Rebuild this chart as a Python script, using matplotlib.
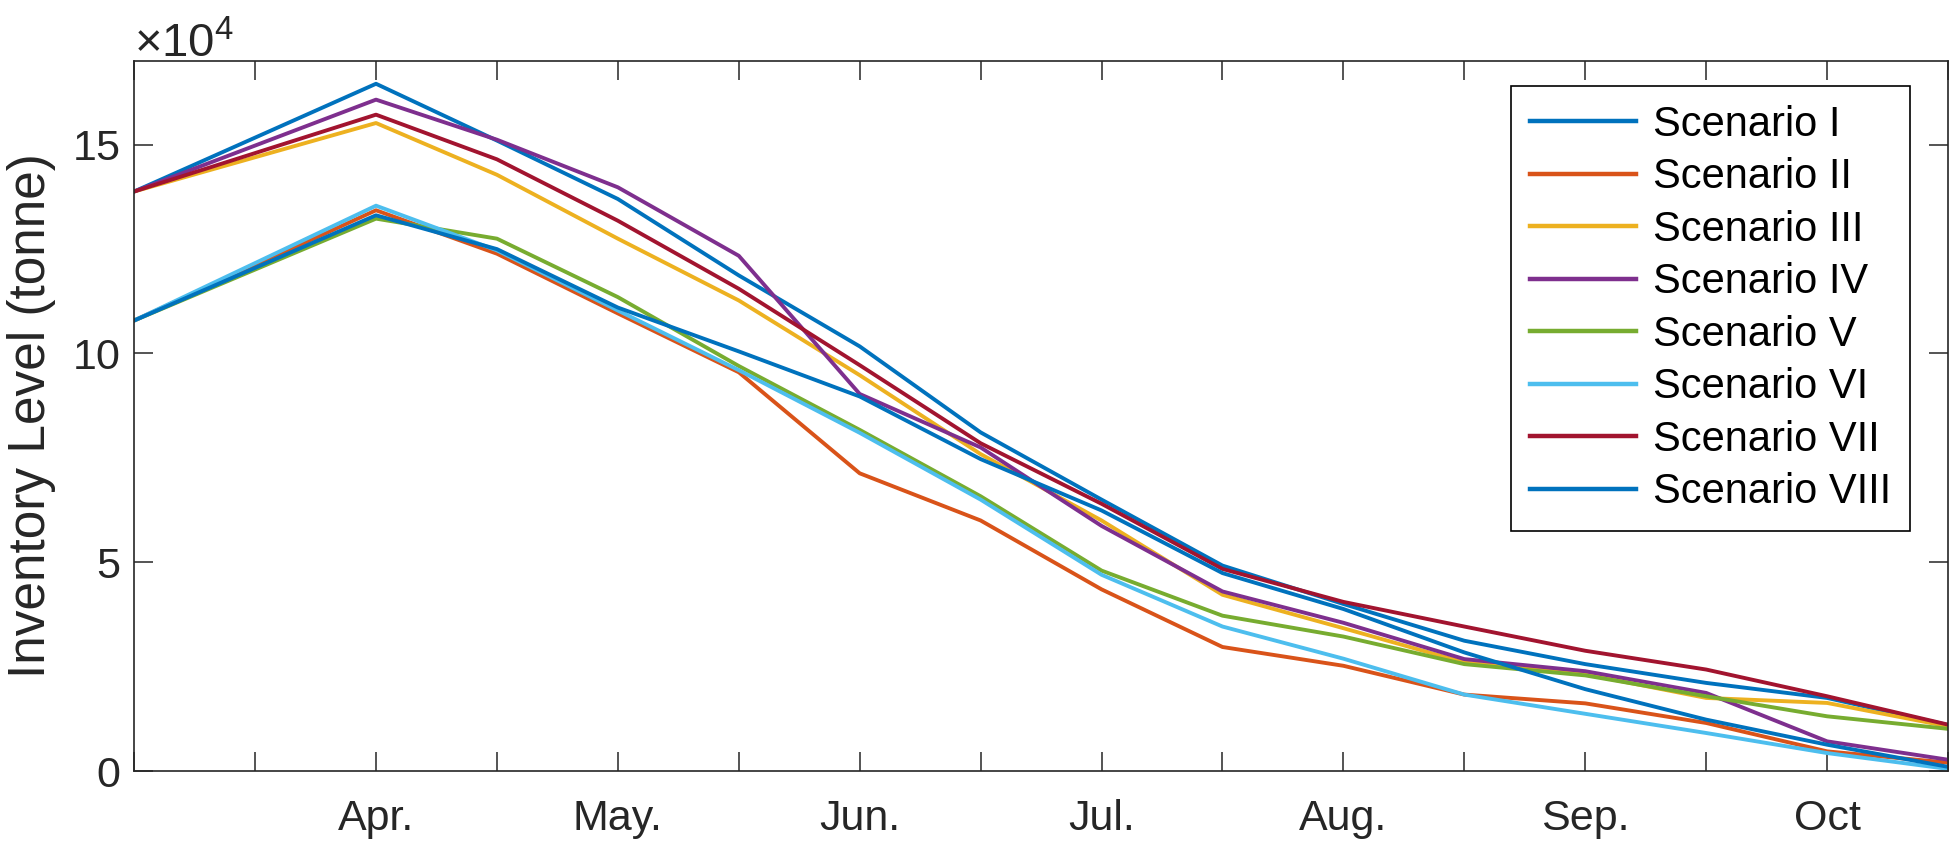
import numpy as np
import matplotlib
matplotlib.use('Agg')
import matplotlib.pyplot as plt
from matplotlib.ticker import ScalarFormatter

plt.rcParams['font.family'] = ['Liberation Sans', 'DejaVu Sans']
plt.rcParams['mathtext.fontset'] = 'custom'
plt.rcParams['mathtext.rm'] = 'Liberation Sans'
plt.rcParams['mathtext.default'] = 'regular'

# half-month periods (0 = start of March, 2 = Apr., ... 14 = Oct)
periods = [0, 2, 3, 4, 5, 6, 7, 8, 9, 10, 11, 12, 13, 14, 15]
month_pos = [2, 4, 6, 8, 10, 12, 14]
month_labels = ['Apr.', 'May.', 'Jun.', 'Jul.', 'Aug.', 'Sep.', 'Oct']

# inventory levels, x10^4 tonne
scen_1 = [13.88, 16.46, 15.10, 13.70, 11.87, 10.17, 8.11, 6.50, 4.92, 4.00, 3.12, 2.56, 2.11, 1.75, 1.10]
scen_2 = [10.79, 13.43, 12.39, 10.96, 9.55, 7.13, 6.00, 4.35, 2.97, 2.52, 1.83, 1.62, 1.15, 0.47, 0.20]
scen_3 = [13.88, 15.52, 14.28, 12.75, 11.27, 9.48, 7.59, 6.00, 4.22, 3.42, 2.60, 2.32, 1.75, 1.63, 1.07]
scen_4 = [13.88, 16.08, 15.12, 13.98, 12.34, 9.03, 7.75, 5.87, 4.30, 3.55, 2.68, 2.39, 1.87, 0.71, 0.27]
scen_5 = [10.79, 13.23, 12.75, 11.35, 9.70, 8.17, 6.58, 4.80, 3.72, 3.22, 2.56, 2.29, 1.79, 1.31, 1.01]
scen_6 = [10.79, 13.54, 12.47, 11.03, 9.60, 8.10, 6.50, 4.70, 3.46, 2.69, 1.83, 1.37, 0.91, 0.43, 0.05]
scen_7 = [13.88, 15.72, 14.65, 13.18, 11.55, 9.72, 7.85, 6.40, 4.84, 4.05, 3.46, 2.88, 2.43, 1.79, 1.11]
scen_8 = [10.79, 13.31, 12.50, 11.10, 10.05, 8.97, 7.47, 6.24, 4.74, 3.88, 2.84, 1.96, 1.23, 0.63, 0.10]

names = ['Scenario I', 'Scenario II', 'Scenario III', 'Scenario IV',
         'Scenario V', 'Scenario VI', 'Scenario VII', 'Scenario VIII']
series = [scen_1, scen_2, scen_3, scen_4, scen_5, scen_6, scen_7, scen_8]
colors = ['#0072BD', '#D95319', '#EDB120', '#7E2F8E',
          '#77AC30', '#4DBEEE', '#A2142F', '#0072BD']

fig = plt.figure(figsize=(19.5, 8.48), dpi=100)
ax = fig.add_axes([0.0688, 0.0908, 0.9302, 0.837])

for name, vals, c in zip(names, series, colors):
    ax.plot(periods, np.array(vals) * 1e4, color=c, lw=2.8, label=name)

ax.set_xlim(0, 15)
ax.set_ylim(0, 17e4)
ax.set_xticks(range(16))
ax.set_xticklabels([month_labels[month_pos.index(i)] if i in month_pos else '' for i in range(16)])
ax.set_yticks([0, 5e4, 10e4, 15e4])

fmt = ScalarFormatter(useMathText=True)
fmt.set_powerlimits((4, 4))
ax.yaxis.set_major_formatter(fmt)
ax.yaxis.get_offset_text().set_fontsize(34)
ax.yaxis.get_offset_text().set_color('#262626')

ax.tick_params(direction='in', length=14, width=1.1, top=True, right=True,
               labelsize=31, colors='#262626')
ax.tick_params(axis='x', pad=20)
ax.tick_params(axis='y', pad=10)
for s in ax.spines.values():
    s.set_color('#262626')
    s.set_linewidth(1.2)

ax.set_ylabel('Inventory Level (tonne)', fontsize=37, color='#262626')
ax.yaxis.set_label_coords(-0.043, 0.5)

leg = ax.legend(loc='upper right', bbox_to_anchor=(0.979, 0.965), borderaxespad=0,
                fontsize=30, fancybox=False, edgecolor='black', framealpha=1,
                handlelength=2.55, handletextpad=0.4, borderpad=0.45, labelspacing=0.3)
leg.get_frame().set_linewidth(1.2)
for h in leg.get_lines():
    h.set_linewidth(3.2)

fig.savefig('out.png', dpi=100)
